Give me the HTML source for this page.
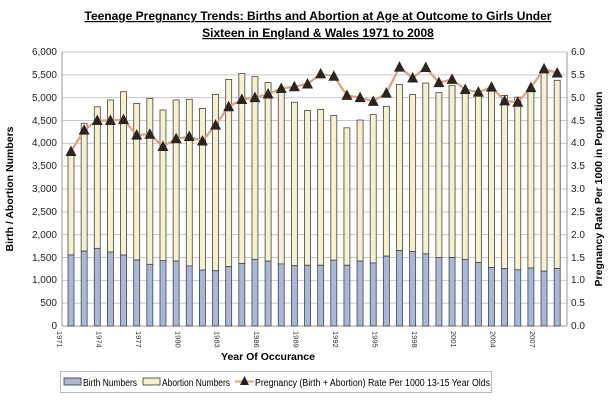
<!DOCTYPE html>
<html><head><meta charset="utf-8"><style>
html,body{margin:0;padding:0;background:#fff}
svg{display:block;font-family:"Liberation Sans",Arial,sans-serif}
</style></head><body>
<svg id="s" width="615" height="406" viewBox="0 0 615 406" xmlns="http://www.w3.org/2000/svg">
<rect x="0" y="0" width="615" height="406" fill="#fff"/>
<text x="318" y="20" font-size="12" font-weight="bold" text-anchor="middle" text-decoration="underline">Teenage Pregnancy Trends: Births and Abortion at Age at Outcome to Girls Under</text>
<text x="318" y="37" font-size="12" font-weight="bold" text-anchor="middle" text-decoration="underline">Sixteen in England &amp; Wales 1971 to 2008</text>
<g id="grid" stroke="#c8c8c8" stroke-width="1"></g>
<line x1="62" y1="52" x2="62" y2="326" stroke="#999"/>
<line x1="567" y1="52" x2="567" y2="326" stroke="#999"/>
<line x1="62" y1="326" x2="567" y2="326" stroke="#999"/>
<g id="bars"></g>
<g id="line"></g>
<g font-size="10" fill="#222" text-anchor="end">
<text x="57" y="329">0</text><text x="57" y="306">500</text><text x="57" y="283">1,000</text><text x="57" y="261">1,500</text><text x="57" y="238">2,000</text><text x="57" y="215">2,500</text><text x="57" y="192">3,000</text><text x="57" y="169">3,500</text><text x="57" y="146">4,000</text><text x="57" y="124">4,500</text><text x="57" y="101">5,000</text><text x="57" y="78">5,500</text><text x="57" y="55">6,000</text>
</g>
<g font-size="10" fill="#222" text-anchor="start">
<text x="571" y="329">0.0</text><text x="571" y="306">0.5</text><text x="571" y="283">1.0</text><text x="571" y="261">1.5</text><text x="571" y="238">2.0</text><text x="571" y="215">2.5</text><text x="571" y="192">3.0</text><text x="571" y="169">3.5</text><text x="571" y="146">4.0</text><text x="571" y="124">4.5</text><text x="571" y="101">5.0</text><text x="571" y="78">5.5</text><text x="571" y="55">6.0</text>
</g>
<text transform="translate(13,189) rotate(-90)" font-size="10.5" font-weight="bold" text-anchor="middle">Birth / Abortion Numbers</text>
<text transform="translate(602,189) rotate(-90)" font-size="10.5" font-weight="bold" text-anchor="middle">Pregnancy Rate Per 1000 in Population</text>
<g font-size="7.5" fill="#333">
<text transform="translate(57,331) rotate(90)">1971</text>
<text transform="translate(96.4,331) rotate(90)">1974</text>
<text transform="translate(135.8,331) rotate(90)">1977</text>
<text transform="translate(175.3,331) rotate(90)">1980</text>
<text transform="translate(214.7,331) rotate(90)">1983</text>
<text transform="translate(254.1,331) rotate(90)">1986</text>
<text transform="translate(293.5,331) rotate(90)">1989</text>
<text transform="translate(332.9,331) rotate(90)">1992</text>
<text transform="translate(372.4,331) rotate(90)">1995</text>
<text transform="translate(411.8,331) rotate(90)">1998</text>
<text transform="translate(451.2,331) rotate(90)">2001</text>
<text transform="translate(490.6,331) rotate(90)">2004</text>
<text transform="translate(530,331) rotate(90)">2007</text>
</g>
<text x="268" y="360" font-size="10.5" font-weight="bold" text-anchor="middle">Year Of Occurance</text>
<rect x="60.5" y="371.5" width="431" height="21" fill="#fff" stroke="#bbb"/>
<rect x="64" y="378" width="17" height="7" fill="#a9b8d8" stroke="#333" stroke-width="0.8"/>
<text x="83" y="386" font-size="10" textLength="54" lengthAdjust="spacingAndGlyphs">Birth Numbers</text>
<rect x="143" y="378" width="17" height="7" fill="#f6f1cc" stroke="#333" stroke-width="0.8"/>
<text x="162" y="386" font-size="10" textLength="68" lengthAdjust="spacingAndGlyphs">Abortion Numbers</text>
<line x1="235" y1="381.5" x2="254" y2="381.5" stroke="#e2a07c" stroke-width="2"/>
<polygon points="244.5,376 240,385 249,385" fill="#222"/>
<text x="255" y="386" font-size="10" textLength="235" lengthAdjust="spacingAndGlyphs">Pregnancy (Birth + Abortion)  Rate Per 1000 13-15 Year Olds</text>
</svg>
<script>
var NS="http://www.w3.org/2000/svg";
function el(t,a,p){var e=document.createElementNS(NS,t);for(var k in a)e.setAttribute(k,a[k]);document.getElementById(p).appendChild(e);return e;}
for(var i=1;i<=12;i++){var y=326-i*274/12;el("line",{x1:62,x2:567,y1:y,y2:y},"grid");}
var tot=[3745,4440,4800,4950,5130,4875,4985,4730,4950,4965,4765,5070,5400,5530,5460,5330,5200,4900,4720,4740,4610,4340,4510,4630,4810,5290,5070,5320,5110,5270,5090,5050,5200,5050,5010,5200,5550,5380];
var bir=[1555,1640,1700,1620,1555,1445,1350,1430,1423,1315,1225,1210,1300,1370,1460,1420,1360,1320,1330,1330,1440,1330,1420,1380,1530,1650,1630,1580,1500,1500,1460,1390,1280,1260,1230,1270,1200,1260];
var rate=[3.82,4.29,4.5,4.5,4.52,4.18,4.2,3.93,4.1,4.15,4.05,4.4,4.8,4.96,5.0,5.08,5.2,5.24,5.3,5.52,5.47,5.05,5.0,4.92,5.1,5.67,5.43,5.66,5.33,5.4,5.18,5.12,5.23,4.93,4.9,5.22,5.63,5.54];
var pts=[];
for(var i=0;i<38;i++){var cx=71+i*13.14;var yt=326-tot[i]*274/6000,yb=326-bir[i]*274/6000;
el("rect",{x:cx-3,y:yt,width:6,height:yb-yt,fill:"#f6f1cc",stroke:"#444","stroke-width":0.8},"bars");
el("rect",{x:cx-3,y:yb,width:6,height:326-yb,fill:"#a9b8d8",stroke:"#444","stroke-width":0.8},"bars");
pts.push(cx+","+(326-rate[i]*274/6));}
el("polyline",{points:pts.join(" "),fill:"none",stroke:"#e2a07c","stroke-width":2.2},"line");
for(var i=0;i<38;i++){var p=pts[i].split(",");var x=+p[0],y=+p[1];
el("polygon",{points:x+","+(y-6)+" "+(x-5.5)+","+(y+4.5)+" "+(x+5.5)+","+(y+4.5),fill:"#2a2520"},"line");}
</script>
</body></html>
